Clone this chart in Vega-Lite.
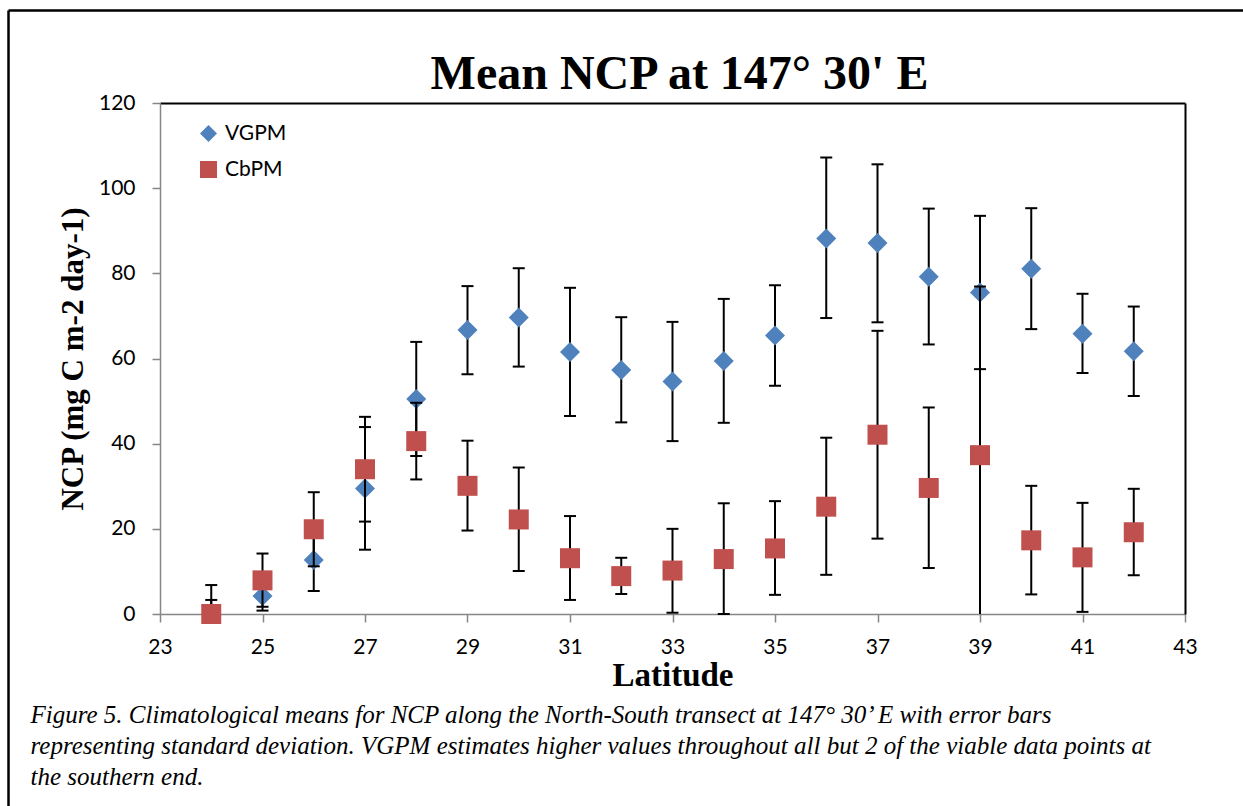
{
  "$schema": "https://vega.github.io/schema/vega-lite/v6.json",
  "width": 1235,
  "height": 796,
  "autosize": {"type": "none"},
  "padding": {"left": 8, "top": 10, "right": 0, "bottom": 0},
  "background": "white",
  "config": {"view": {"stroke": null}},
  "data": {"values": [
    {"lat": 24, "series": "VGPM", "mean": 0, "lo": -3.3, "hi": 3.3},
    {"lat": 25, "series": "VGPM", "mean": 4.2, "lo": 0.8, "hi": 7.6},
    {"lat": 26, "series": "VGPM", "mean": 12.7, "lo": 5.4, "hi": 20.0},
    {"lat": 27, "series": "VGPM", "mean": 29.5, "lo": 15.1, "hi": 43.9},
    {"lat": 28, "series": "VGPM", "mean": 50.5, "lo": 37.1, "hi": 63.9},
    {"lat": 29, "series": "VGPM", "mean": 66.7, "lo": 56.3, "hi": 77.0},
    {"lat": 30, "series": "VGPM", "mean": 69.6, "lo": 58.1, "hi": 81.2},
    {"lat": 31, "series": "VGPM", "mean": 61.5, "lo": 46.5, "hi": 76.6},
    {"lat": 32, "series": "VGPM", "mean": 57.3, "lo": 45.0, "hi": 69.7},
    {"lat": 33, "series": "VGPM", "mean": 54.6, "lo": 40.6, "hi": 68.6},
    {"lat": 34, "series": "VGPM", "mean": 59.4, "lo": 44.9, "hi": 74.0},
    {"lat": 35, "series": "VGPM", "mean": 65.4, "lo": 53.6, "hi": 77.2},
    {"lat": 36, "series": "VGPM", "mean": 88.2, "lo": 69.5, "hi": 107.2},
    {"lat": 37, "series": "VGPM", "mean": 87.1, "lo": 68.5, "hi": 105.6},
    {"lat": 38, "series": "VGPM", "mean": 79.2, "lo": 63.3, "hi": 95.2},
    {"lat": 39, "series": "VGPM", "mean": 75.5, "lo": 57.5, "hi": 93.5},
    {"lat": 40, "series": "VGPM", "mean": 81.1, "lo": 66.9, "hi": 95.3},
    {"lat": 41, "series": "VGPM", "mean": 65.8, "lo": 56.6, "hi": 75.2},
    {"lat": 42, "series": "VGPM", "mean": 61.7, "lo": 51.2, "hi": 72.2},
    {"lat": 24, "series": "CbPM", "mean": 0, "lo": -6.8, "hi": 6.8},
    {"lat": 25, "series": "CbPM", "mean": 7.9, "lo": 1.7, "hi": 14.2},
    {"lat": 26, "series": "CbPM", "mean": 19.9, "lo": 11.2, "hi": 28.6},
    {"lat": 27, "series": "CbPM", "mean": 34.0, "lo": 21.7, "hi": 46.3},
    {"lat": 28, "series": "CbPM", "mean": 40.6, "lo": 31.6, "hi": 49.6},
    {"lat": 29, "series": "CbPM", "mean": 30.1, "lo": 19.6, "hi": 40.7},
    {"lat": 30, "series": "CbPM", "mean": 22.2, "lo": 10.1, "hi": 34.4},
    {"lat": 31, "series": "CbPM", "mean": 13.1, "lo": 3.3, "hi": 23.0},
    {"lat": 32, "series": "CbPM", "mean": 8.9, "lo": 4.7, "hi": 13.2},
    {"lat": 33, "series": "CbPM", "mean": 10.2, "lo": 0.3, "hi": 20.0},
    {"lat": 34, "series": "CbPM", "mean": 12.9, "lo": 0.0, "hi": 26.0},
    {"lat": 35, "series": "CbPM", "mean": 15.4, "lo": 4.5, "hi": 26.5},
    {"lat": 36, "series": "CbPM", "mean": 25.2, "lo": 9.2, "hi": 41.4},
    {"lat": 37, "series": "CbPM", "mean": 42.1, "lo": 17.7, "hi": 66.5},
    {"lat": 38, "series": "CbPM", "mean": 29.6, "lo": 10.8, "hi": 48.5},
    {"lat": 39, "series": "CbPM", "mean": 37.3, "lo": -2.3, "hi": 76.9},
    {"lat": 40, "series": "CbPM", "mean": 17.3, "lo": 4.6, "hi": 30.1},
    {"lat": 41, "series": "CbPM", "mean": 13.3, "lo": 0.5, "hi": 26.1},
    {"lat": 42, "series": "CbPM", "mean": 19.2, "lo": 9.1, "hi": 29.4}
  ]},
  "resolve": {"scale": {"x": "independent", "y": "independent"}, "axis": {"x": "independent", "y": "independent"}},
  "layer": [
    {
      "mark": {"type": "point", "opacity": 0},
      "encoding": {
        "x": {"field": "lat", "type": "quantitative", "scale": {"domain": [0, 1], "nice": false, "zero": false},
          "axis": {"orient": "top", "offset": 0, "domainColor": "black", "domainWidth": 2.5, "ticks": false, "labels": false, "grid": false,
            "title": "Mean NCP at 147° 30' E", "titleFont": "Liberation Serif", "titleFontWeight": "bold", "titleFontSize": 48, "titleColor": "black",
            "titleX": 671, "titleY": 78, "titleBaseline": "alphabetic", "titleAlign": "center", "titleAngle": 0}},
        "y": {"field": "mean", "type": "quantitative", "scale": {"domain": [0, 1], "nice": false, "zero": false},
          "axis": {"orient": "left", "offset": 0, "domainColor": "black", "domainWidth": 2.5, "ticks": false, "labels": false, "grid": false,
            "title": ["Figure 5. Climatological means for NCP along the North-South transect at 147° 30’ E with error bars", "representing standard deviation. VGPM estimates higher values throughout all but 2 of the viable data points at", "the southern end."],
            "titleFont": "Liberation Serif", "titleFontStyle": "italic", "titleFontWeight": "normal", "titleFontSize": 25, "titleColor": "black",
            "titleLineHeight": 31, "titleAngle": 0, "titleAlign": "left", "titleBaseline": "alphabetic", "titleX": 22, "titleY": 712}}
      }
    },
    {
      "resolve": {"axis": {"x": "independent", "y": "independent"}},
      "layer": [
        {
          "transform": [{"filter": "datum.series === 'VGPM'"}],
          "mark": {"type": "rule", "color": "black", "strokeWidth": 2},
          "encoding": {
            "x": {"field": "lat", "type": "quantitative", "scale": {"domain": [23, 43], "range": [152, 1177], "nice": false, "zero": false},
              "axis": {"orient": "bottom", "offset": -192, "values": [23, 25, 27, 29, 31, 33, 35, 37, 39, 41, 43], "domainColor": "#868686", "domainWidth": 1.5,
                "tickColor": "#868686", "tickSize": 8, "tickWidth": 1.5, "labelFont": "Lato", "labelFontSize": 21, "labelColor": "black", "labelPadding": 14,
                "labelFlush": false, "labelOverlap": false, "grid": false, "format": "d",
                "title": "Latitude", "titleFont": "Liberation Serif", "titleFontWeight": "bold", "titleFontSize": 33, "titleColor": "black",
                "titleY": 71, "titleBaseline": "alphabetic"}},
            "y": {"field": "lo", "type": "quantitative", "scale": {"domain": [0, 120], "range": [604, 93], "nice": false, "zero": false, "clamp": true},
              "axis": {"orient": "left", "offset": -152, "values": [0, 20, 40, 60, 80, 100, 120], "domainColor": "#868686", "domainWidth": 1.5,
                "tickColor": "#868686", "tickSize": 8, "tickWidth": 1.5, "labelFont": "Lato", "labelFontSize": 21, "labelColor": "black", "labelPadding": 17,
                "labelFlush": false, "labelOverlap": false, "grid": false,
                "title": "NCP (mg C m-2 day-1)", "titleFont": "Liberation Serif", "titleFontWeight": "bold", "titleFontSize": 31, "titleColor": "black",
                "titleAngle": -90, "titleX": -78, "titleY": 348.5, "titleBaseline": "alphabetic", "titleAlign": "center"}},
            "y2": {"field": "hi"}
          }
        },
        {
          "transform": [{"filter": "datum.series === 'VGPM'"}],
          "mark": {"type": "tick", "orient": "horizontal", "color": "black", "size": 12, "thickness": 2, "opacity": 1},
          "encoding": {
            "x": {"field": "lat", "type": "quantitative", "scale": {"domain": [23, 43], "range": [152, 1177], "nice": false, "zero": false},
              "axis": {"orient": "top", "offset": -93, "domainColor": "black", "domainWidth": 2, "ticks": false, "labels": false, "grid": false, "title": null}},
            "y": {"field": "hi", "type": "quantitative", "scale": {"domain": [0, 120], "range": [604, 93], "nice": false, "zero": false, "clamp": true},
              "axis": {"orient": "right", "offset": -58, "domainColor": "black", "domainWidth": 2, "ticks": false, "labels": false, "grid": false, "title": null}}
          }
        },
        {
          "transform": [{"filter": "datum.series === 'VGPM'"}, {"filter": "datum.lo >= 0"}],
          "mark": {"type": "tick", "orient": "horizontal", "color": "black", "size": 12, "thickness": 2, "opacity": 1},
          "encoding": {
            "x": {"field": "lat", "type": "quantitative", "scale": {"domain": [23, 43], "range": [152, 1177], "nice": false, "zero": false}, "axis": null},
            "y": {"field": "lo", "type": "quantitative", "scale": {"domain": [0, 120], "range": [604, 93], "nice": false, "zero": false, "clamp": true}, "axis": null}
          }
        },
        {
          "transform": [{"filter": "datum.series === 'VGPM'"}],
          "mark": {"type": "point", "filled": true, "size": 400, "opacity": 1, "strokeWidth": 0},
          "encoding": {
            "x": {"field": "lat", "type": "quantitative", "scale": {"domain": [23, 43], "range": [152, 1177], "nice": false, "zero": false}, "axis": null},
            "y": {"field": "mean", "type": "quantitative", "scale": {"domain": [0, 120], "range": [604, 93], "nice": false, "zero": false, "clamp": true}, "axis": null},
            "color": {"field": "series", "type": "nominal", "scale": {"domain": ["VGPM", "CbPM"], "range": ["#4F81BD", "#C0504D"]},
              "legend": {"orient": "none", "legendX": 190, "legendY": 113, "title": null, "symbolSize": 289, "labelFont": "Lato", "labelFontSize": 21, "labelColor": "black", "rowPadding": 14, "labelOffset": 6, "padding": 0, "symbolStrokeWidth": 0, "symbolOpacity": 1}},
            "shape": {"field": "series", "type": "nominal", "scale": {"domain": ["VGPM", "CbPM"], "range": ["diamond", "square"]},
              "legend": {"orient": "none", "legendX": 190, "legendY": 113, "title": null, "symbolSize": 289, "labelFont": "Lato", "labelFontSize": 21, "labelColor": "black", "rowPadding": 14, "labelOffset": 6, "padding": 0, "symbolStrokeWidth": 0, "symbolOpacity": 1}}
          }
        },
        {
          "transform": [{"filter": "datum.series === 'CbPM'"}],
          "mark": {"type": "rule", "color": "black", "strokeWidth": 2},
          "encoding": {
            "x": {"field": "lat", "type": "quantitative", "scale": {"domain": [23, 43], "range": [152, 1177], "nice": false, "zero": false}, "axis": null},
            "y": {"field": "lo", "type": "quantitative", "scale": {"domain": [0, 120], "range": [604, 93], "nice": false, "zero": false, "clamp": true}, "axis": null},
            "y2": {"field": "hi"}
          }
        },
        {
          "transform": [{"filter": "datum.series === 'CbPM'"}],
          "mark": {"type": "tick", "orient": "horizontal", "color": "black", "size": 12, "thickness": 2, "opacity": 1},
          "encoding": {
            "x": {"field": "lat", "type": "quantitative", "scale": {"domain": [23, 43], "range": [152, 1177], "nice": false, "zero": false}, "axis": null},
            "y": {"field": "hi", "type": "quantitative", "scale": {"domain": [0, 120], "range": [604, 93], "nice": false, "zero": false, "clamp": true}, "axis": null}
          }
        },
        {
          "transform": [{"filter": "datum.series === 'CbPM'"}, {"filter": "datum.lo >= 0"}],
          "mark": {"type": "tick", "orient": "horizontal", "color": "black", "size": 12, "thickness": 2, "opacity": 1},
          "encoding": {
            "x": {"field": "lat", "type": "quantitative", "scale": {"domain": [23, 43], "range": [152, 1177], "nice": false, "zero": false}, "axis": null},
            "y": {"field": "lo", "type": "quantitative", "scale": {"domain": [0, 120], "range": [604, 93], "nice": false, "zero": false, "clamp": true}, "axis": null}
          }
        },
        {
          "transform": [{"filter": "datum.series === 'CbPM'"}],
          "mark": {"type": "point", "filled": true, "size": 400, "opacity": 1, "strokeWidth": 0},
          "encoding": {
            "x": {"field": "lat", "type": "quantitative", "scale": {"domain": [23, 43], "range": [152, 1177], "nice": false, "zero": false}, "axis": null},
            "y": {"field": "mean", "type": "quantitative", "scale": {"domain": [0, 120], "range": [604, 93], "nice": false, "zero": false, "clamp": true}, "axis": null},
            "color": {"field": "series", "type": "nominal", "scale": {"domain": ["VGPM", "CbPM"], "range": ["#4F81BD", "#C0504D"]}},
            "shape": {"field": "series", "type": "nominal", "scale": {"domain": ["VGPM", "CbPM"], "range": ["diamond", "square"]}}
          }
        }
      ]
    }
  ]
}
